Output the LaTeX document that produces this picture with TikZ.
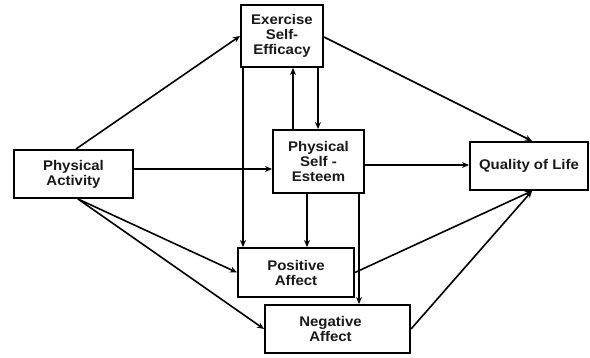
\documentclass[tikz,border=0pt]{standalone}
\usepackage{fontspec}
\setmainfont{Liberation Sans}[FakeStretch=1.07]
\usetikzlibrary{arrows.meta}
\begin{document}
\begin{tikzpicture}[x=1pt,y=-1pt,
  box/.style={draw=black,line width=2pt,fill=white,inner sep=0pt,align=center,
    font=\fontsize{14}{15}\selectfont\bfseries,text=black!90},
  arr/.style={line width=1.6pt,-{Stealth[length=7pt,width=6pt]}},
  ]
\useasboundingbox (0,0) rectangle (590,358);
\node[box,minimum width=119pt,minimum height=48pt] (pa) at (73.5,174) {Physical\\Activity};
\node[box,minimum width=82pt,minimum height=62pt] (ese) at (282,36) {Exercise\\Self-\\Efficacy};
\node[box,minimum width=91pt,minimum height=63pt] (pse) at (318.5,161.5) {Physical\\Self -\\Esteem};
\node[box,minimum width=118pt,minimum height=48pt] (qol) at (529,166) {Quality of Life};
\node[box,minimum width=116pt,minimum height=49pt] (pos) at (296,272.5) {Positive\\Affect};
\node[box,minimum width=145pt,minimum height=48pt] (neg) at (337.5,329) {\hspace*{-14pt}Negative\\\hspace*{-14pt}Affect};
\coordinate (xa) at (76,0);
\coordinate (xb) at (78,0);
\coordinate (xc) at (243,0);
\coordinate (xd) at (293,0);
\coordinate (xe) at (318,0);
\coordinate (xf) at (307,0);
\coordinate (xg) at (359,0);
\coordinate (xq) at (532,0);
\coordinate (ya) at (0,169);
\coordinate (yb) at (0,165);
\coordinate (yc) at (0,37);
\draw[arr] (pa.north -| xa) -- (ese.west);
\draw[arr] (pa.east |- ya) -- (pse.west |- ya);
\draw[arr] (pa.south -| xb) -- (pos.west);
\draw[arr] (pa.south -| xb) -- (neg.west);
\draw[arr] (ese.east |- yc) -- (qol.north -| xq);
\draw[arr] (pse.east |- yb) -- (qol.west |- yb);
\draw[arr] (ese.south -| xe) -- (pse.north -| xe);
\draw[arr] (pse.north -| xd) -- (ese.south -| xd);
\draw[arr] (ese.south -| xc) -- (pos.north -| xc);
\draw[arr] (pse.south -| xf) -- (pos.north -| xf);
\draw[arr] (pse.south -| xg) -- (neg.north -| xg);
\draw[arr] (pos.east) -- (qol.south -| xq);
\draw[arr] (neg.east) -- (qol.south -| xq);
\end{tikzpicture}
\end{document}
